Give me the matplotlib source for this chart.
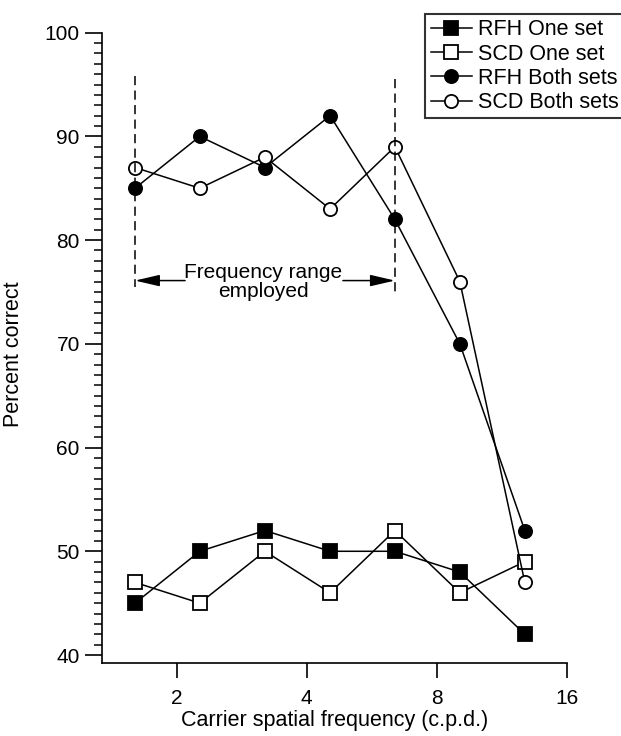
# Percent correct vs carrier spatial frequency (log2 x axis)
import numpy as np
import matplotlib.pyplot as plt
from matplotlib.ticker import FixedLocator, MultipleLocator

plt.rcParams['font.family'] = ['Liberation Sans', 'DejaVu Sans']

# data
freq = [1.6, 2.26, 3.2, 4.53, 6.4, 9.05, 12.8]
rfh_one = [45, 50, 52, 50, 50, 48, 42]
scd_one = [47, 45, 50, 46, 52, 46, 49]
rfh_both = [85, 90, 87, 92, 82, 70, 52]
scd_both = [87, 85, 88, 83, 89, 76, 47]
xticks = [2, 4, 8, 16]
yticks = [40, 50, 60, 70, 80, 90, 100]
range_lo, range_hi = 1.6, 6.4

fig = plt.figure(figsize=(6.21, 7.36), dpi=100)
ax = fig.add_axes([0.1643, 0.0992, 0.9125 - 0.1643, 0.9556 - 0.0992])

kw = dict(color="black", lw=1.1, markersize=9.5, markeredgewidth=1.3)
ax.plot(freq, rfh_one, marker="s", mfc="black", mec="black", label="RFH One set", **kw)
ax.plot(freq, scd_one, marker="s", mfc="white", mec="black", label="SCD One set", **kw)
ax.plot(freq, rfh_both, marker="o", mfc="black", mec="black", label="RFH Both sets", **kw)
ax.plot(freq, scd_both, marker="o", mfc="white", mec="black", label="SCD Both sets", **kw)

# frequency range employed
ax.plot([range_lo, range_lo], [95.8, 75.5], ls=(0, (6, 3.5)), color="black", lw=1.1)
ax.plot([range_hi, range_hi], [95.5, 75.0], ls=(0, (6, 3.5)), color="black", lw=1.1)
arrow = dict(arrowstyle="-|>,head_length=1.5,head_width=0.35", color="black", lw=1.1,
             shrinkA=0, shrinkB=0)
ax.annotate("", xy=(range_lo, 76.1), xytext=(2.09, 76.1), arrowprops=arrow)
ax.annotate("", xy=(range_hi, 76.1), xytext=(4.85, 76.1), arrowprops=arrow)
ax.text(3.17, 76.0, "Frequency range\nemployed", ha="center", va="center",
        fontsize=15, linespacing=1.0)

ax.set_xscale("log", base=2)
ax.set_xlim(1.342, 16)
ax.xaxis.set_major_locator(FixedLocator(xticks))
ax.xaxis.set_minor_locator(FixedLocator([]))
ax.set_xticklabels([str(t) for t in xticks])
ax.set_ylim(39.23, 100)
ax.set_yticks(yticks)
ax.yaxis.set_minor_locator(MultipleLocator(1))

ax.spines["top"].set_visible(False)
ax.spines["right"].set_visible(False)
for s in ("left", "bottom"):
    ax.spines[s].set_linewidth(1.2)
ax.tick_params(axis="x", which="major", direction="out", length=11, width=1.2, labelsize=15, pad=8)
ax.tick_params(axis="y", which="major", direction="out", length=12, width=1.2, labelsize=15, pad=4)
ax.tick_params(axis="y", which="minor", direction="out", length=6, width=1.1)

ax.set_xlabel("Carrier spatial frequency (c.p.d.)", fontsize=15.5, labelpad=1)
ax.set_ylabel("Percent correct", fontsize=15.5)
ax.yaxis.set_label_coords(-0.168, 0.49)

leg = fig.legend(loc="upper right", bbox_to_anchor=(1.005, 0.981), fontsize=15.5,
                 frameon=True, fancybox=False, edgecolor="black", handlelength=1.9,
                 handletextpad=0.3, labelspacing=0.15, borderpad=0.25, borderaxespad=0)
leg.get_frame().set_linewidth(1.5)

fig.savefig("out.png", dpi=100)
